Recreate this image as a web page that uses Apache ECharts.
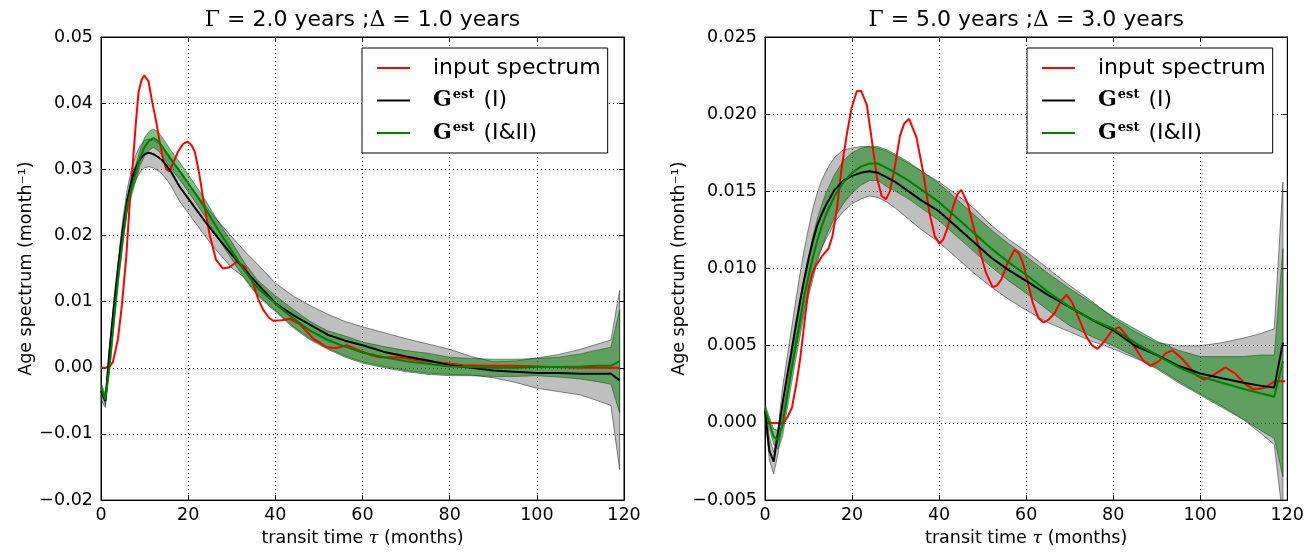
<!DOCTYPE html>
<html>
<head>
<meta charset="utf-8">
<script src="https://cdn.jsdelivr.net/npm/echarts@6/dist/echarts.min.js"></script>
<style>
html, body { margin: 0; padding: 0; background: #fff; }
#chart { width: 1307px; height: 552px; }
</style>
</head>
<body>
<div id="chart"></div>
<script>
// ---- transit-time grid (months) for the estimated spectra and their bands ----
const tau = [0, 1, 2, 3, 4, 5, 6, 7, 8, 9, 10, 11, 12, 13, 14, 15, 16, 18, 20, 22, 24, 26, 28, 30,
  33, 36, 40, 44, 48, 52, 56, 60, 65, 70, 75, 80, 85, 90, 95, 100, 105, 110, 114, 117, 119];

const xTicks = [0, 20, 40, 60, 80, 100, 120];
const yTicksA = [-0.02, -0.01, 0.00, 0.01, 0.02, 0.03, 0.04, 0.05];
const yTicksB = [-0.005, 0.000, 0.005, 0.010, 0.015, 0.020, 0.025];

const titleA = ['Γ = ', '2.0 years ;', 'Δ = ', '1.0 years'];
const titleB = ['Γ = ', '5.0 years ;', 'Δ = ', '3.0 years'];
const seriesNames = ['input spectrum', 'Gest (I)', 'Gest (I&II)'];

// ---- panel A: Γ = 2 years, Δ = 1 year ----
const inputTauA = [0, 1, 2, 2.75, 3.9, 4.8, 5.8, 6.5, 7.2, 8, 8.6, 9.3, 9.9, 10.9, 11.8, 12.7, 13.5, 14.2,
  15, 15.7, 16.7, 17.7, 18.8, 19.8, 20.7, 21.5, 22.5, 23.4, 24.9, 26.4, 28, 29.5, 31.1, 33, 34.9, 36,
  37.2, 38.5, 39.5, 41.5, 43.3, 45.6, 48.7, 51.8, 54, 56.4, 59.4, 62, 64, 67.8, 73.2, 79.3, 83, 88,
  94.5, 100, 110, 119];
const inputA = [0, 0, 0.0002, 0.0009, 0.0044, 0.0095, 0.0168, 0.024, 0.030, 0.037, 0.0416, 0.0435,
  0.0442, 0.0433, 0.040, 0.0371, 0.034, 0.0317, 0.0300, 0.0297, 0.0312, 0.0327, 0.0338, 0.0342,
  0.0337, 0.0327, 0.0295, 0.0257, 0.0202, 0.0163, 0.0150, 0.0152, 0.0160, 0.0153, 0.0128, 0.0105,
  0.0088, 0.0076, 0.0071, 0.0072, 0.0074, 0.0066, 0.0044, 0.0031, 0.0030, 0.0034, 0.0026, 0.0019,
  0.0016, 0.0016, 0.0011, 0.0007, 0.0004, 0.0003, 0.0003, 0.0002, 0.0, 0.0];

const gestIA = [-0.0035, -0.005, 0.0028, 0.0095, 0.0155, 0.021, 0.0253, 0.0283, 0.0303, 0.0316,
  0.0323, 0.0325, 0.0323, 0.0319, 0.0314, 0.0306, 0.0297, 0.0274, 0.0256, 0.0238, 0.022, 0.0203,
  0.0187, 0.0171, 0.0148, 0.0126, 0.0098, 0.008, 0.0065, 0.005, 0.0041, 0.0034, 0.0024, 0.0017,
  0.0011, 0.0004, 0.0, -0.0004, -0.0006, -0.0008, -0.0008, -0.0009, -0.0009, -0.0009, -0.0019];
const bandIHiA = [-0.0028, -0.0042, 0.0038, 0.0105, 0.0167, 0.0224, 0.0269, 0.030, 0.0322, 0.0336,
  0.0344, 0.0346, 0.0344, 0.034, 0.0335, 0.0327, 0.0318, 0.0296, 0.0279, 0.0262, 0.0245, 0.0228,
  0.0213, 0.0198, 0.0176, 0.0156, 0.0128, 0.0109, 0.0094, 0.0081, 0.007, 0.0062, 0.0053, 0.0044,
  0.0036, 0.0028, 0.0017, 0.0009, 0.001, 0.0015, 0.002, 0.0028, 0.0036, 0.0042, 0.0117];
const bandILoA = [-0.0048, -0.006, 0.0018, 0.0085, 0.0143, 0.0196, 0.0237, 0.0266, 0.0284, 0.0296,
  0.0302, 0.0304, 0.0302, 0.0298, 0.0293, 0.0285, 0.0276, 0.0252, 0.0234, 0.0216, 0.0198, 0.0181,
  0.0166, 0.0151, 0.0136, 0.011, 0.0087, 0.0063, 0.0044, 0.003, 0.0018, 0.0009, 0.0002, -0.0004,
  -0.0008, -0.001, -0.0011, -0.0015, -0.0022, -0.0031, -0.0036, -0.0041, -0.005, -0.0057, -0.0154];

const gestIIA = [-0.003, -0.0048, 0.0005, 0.0075, 0.014, 0.0195, 0.0245, 0.0272, 0.0295, 0.0318,
  0.0334, 0.0343, 0.0347, 0.0343, 0.0335, 0.0325, 0.0315, 0.0298, 0.0279, 0.026, 0.024, 0.0218,
  0.0197, 0.0177, 0.0146, 0.012, 0.0097, 0.0075, 0.0056, 0.0042, 0.0032, 0.0023, 0.0016, 0.001,
  0.0006, 0.0002, 0.0001, 0.0, 0.0, 0.0001, 0.0001, 0.0002, 0.0003, 0.0003, 0.001];
const bandIIHiA = [-0.0022, -0.004, 0.0013, 0.0085, 0.015, 0.0205, 0.0255, 0.0284, 0.0307, 0.033,
  0.0348, 0.0357, 0.0361, 0.0357, 0.0349, 0.0339, 0.0329, 0.0311, 0.0292, 0.0273, 0.0253, 0.0231,
  0.021, 0.019, 0.0158, 0.0132, 0.0109, 0.0089, 0.007, 0.0056, 0.0048, 0.0039, 0.0032, 0.0026,
  0.0022, 0.0016, 0.0014, 0.0013, 0.0013, 0.0014, 0.0016, 0.0021, 0.0027, 0.0031, 0.0088];
const bandIILoA = [-0.0038, -0.0056, -0.0003, 0.0065, 0.013, 0.0185, 0.0235, 0.026, 0.0283, 0.0306,
  0.032, 0.0329, 0.0333, 0.0329, 0.0321, 0.0311, 0.0301, 0.0285, 0.0266, 0.0247, 0.0227, 0.0205,
  0.0184, 0.0164, 0.0134, 0.0108, 0.0085, 0.0061, 0.0042, 0.0028, 0.0016, 0.0007, 0.0, -0.0006,
  -0.001, -0.0012, -0.0012, -0.0013, -0.0013, -0.0012, -0.0014, -0.0017, -0.0021, -0.0025, -0.0068];

// ---- panel B: Γ = 5 years, Δ = 3 years ----
const inputTauB = [0, 2, 4.3, 5.2, 6.2, 7.3, 8.1, 8.9, 10, 10.8, 11.5, 13.1, 14.6, 15.5, 16.5, 17.6,
  18.8, 19.9, 21.1, 22.1, 23.4, 24.5, 25.7, 26.8, 27.8, 28.7, 29.9, 31, 32, 33.1, 34.8, 36.3, 37.8,
  39, 40.1, 41, 42, 43.2, 44.2, 45.1, 46.6, 48, 49.3, 50.8, 52.3, 53.3, 54.3, 55.8, 57.3, 58.3, 59.2,
  60.4, 61.5, 62.8, 64, 65.2, 66.5, 68, 69.3, 70.6, 72.2, 73.8, 75.2, 76.4, 78, 79.8, 81.4, 83.2,
  85.2, 87, 88.6, 90.5, 92, 93.6, 95.3, 97, 99, 100.9, 103, 105.8, 108, 110.4, 112, 113.5, 115,
  116.5, 117.7, 119.5];
const inputB = [0, 0, 0, 0.0004, 0.001, 0.0027, 0.0042, 0.0061, 0.0087, 0.0096, 0.0101, 0.0108,
  0.0113, 0.0121, 0.0138, 0.0165, 0.0187, 0.0204, 0.0215, 0.0215, 0.0206, 0.0184, 0.0159, 0.0147,
  0.0145, 0.0150, 0.0167, 0.0186, 0.0194, 0.0197, 0.0185, 0.0163, 0.0136, 0.0121, 0.0116, 0.0119,
  0.0127, 0.0140, 0.0148, 0.0151, 0.0142, 0.0126, 0.0112, 0.0097, 0.0088, 0.0089, 0.0093, 0.0104,
  0.0112, 0.0110, 0.0104, 0.0091, 0.0078, 0.0068, 0.0065, 0.0067, 0.0071, 0.0079, 0.0083, 0.0078,
  0.0067, 0.0056, 0.0050, 0.0048, 0.0053, 0.0060, 0.0062, 0.0056, 0.0048, 0.0040, 0.0037, 0.0040,
  0.0045, 0.0047, 0.0043, 0.0038, 0.0031, 0.0028, 0.0031, 0.0036, 0.0032, 0.0025, 0.0022, 0.0022,
  0.0023, 0.0026, 0.0027, 0.0027];

const gestIB = [0.0008, -0.0018, -0.0025, -0.0006, 0.0012, 0.0029, 0.0045, 0.0062, 0.0078, 0.0093,
  0.0106, 0.0118, 0.0128, 0.0135, 0.0141, 0.0146, 0.0151, 0.0157, 0.016, 0.0162, 0.0163, 0.0162,
  0.0159, 0.0156, 0.015, 0.0144, 0.0137, 0.0127, 0.0117, 0.0107, 0.0099, 0.0092, 0.0083, 0.0075,
  0.0067, 0.006, 0.005, 0.0044, 0.0037, 0.0032, 0.0029, 0.0026, 0.0024, 0.0023, 0.0052];
const bandIHiB = [0.0012, -0.0009, -0.0019, -0.0004, 0.0022, 0.0041, 0.0059, 0.0078, 0.0096, 0.0112,
  0.0126, 0.0139, 0.0149, 0.0157, 0.0163, 0.0168, 0.0172, 0.0177, 0.0178, 0.0179, 0.0179, 0.0178,
  0.0176, 0.0173, 0.0168, 0.0163, 0.0156, 0.0148, 0.0139, 0.0128, 0.0119, 0.0111, 0.010, 0.0089,
  0.0079, 0.0068, 0.0059, 0.0052, 0.005, 0.005, 0.0052, 0.0055, 0.0058, 0.0061, 0.0156];
const bandILoB = [0.0004, -0.0024, -0.0033, -0.002, 0.0002, 0.0017, 0.0031, 0.0046, 0.006, 0.0074,
  0.0086, 0.0097, 0.0107, 0.0113, 0.0119, 0.0124, 0.013, 0.0137, 0.0142, 0.0145, 0.0147, 0.0146,
  0.0143, 0.0139, 0.0132, 0.0125, 0.0117, 0.0107, 0.0097, 0.0088, 0.008, 0.0073, 0.0065, 0.0059,
  0.0053, 0.0048, 0.0042, 0.0036, 0.0027, 0.0019, 0.0011, 0.0002, -0.0007, -0.0014, -0.0062];

const gestIIB = [0.0009, 0.0, -0.0009, -0.0011, -0.0002, 0.0015, 0.0033, 0.005, 0.0066, 0.0082,
  0.0095, 0.0107, 0.0118, 0.0127, 0.0135, 0.0141, 0.0147, 0.0156, 0.0162, 0.0166, 0.0168, 0.0168,
  0.0165, 0.0162, 0.0157, 0.0151, 0.0143, 0.0133, 0.0123, 0.0113, 0.0104, 0.0096, 0.0085, 0.0075,
  0.0067, 0.0061, 0.0052, 0.0044, 0.0036, 0.003, 0.0026, 0.0022, 0.0019, 0.0017, 0.004];
const bandIIHiB = [0.0012, 0.0004, -0.0004, -0.0005, 0.0005, 0.0023, 0.0042, 0.006, 0.0077, 0.0094,
  0.0108, 0.0121, 0.0132, 0.0141, 0.0149, 0.0155, 0.0161, 0.017, 0.0175, 0.0178, 0.0179, 0.0179,
  0.0177, 0.0174, 0.0169, 0.0163, 0.0155, 0.0145, 0.0135, 0.0125, 0.0116, 0.0108, 0.0097, 0.0087,
  0.0078, 0.0069, 0.0061, 0.0053, 0.0047, 0.0043, 0.0043, 0.0043, 0.0044, 0.0044, 0.0113];
const bandIILoB = [0.0006, -0.0004, -0.0014, -0.0017, -0.0009, 0.0007, 0.0024, 0.004, 0.0055, 0.007,
  0.0082, 0.0093, 0.0104, 0.0113, 0.0121, 0.0127, 0.0133, 0.0142, 0.0149, 0.0154, 0.0157, 0.0157,
  0.0153, 0.015, 0.0145, 0.0139, 0.0131, 0.0121, 0.0111, 0.0101, 0.0092, 0.0084, 0.0073, 0.0063,
  0.0056, 0.005, 0.0043, 0.0035, 0.0026, 0.0018, 0.001, 0.0002, -0.0005, -0.001, -0.0035];

// ---- chart construction ----
const SANS = 'DejaVu Sans';
const SERIF = 'DejaVu Serif';
const pairs = (xs, ys) => xs.map((x, i) => [x, ys[i]]);
const fmtTick = (digits) => (v) => (v < -1e-12 ? '\u2212' : '') + Math.abs(v).toFixed(digits);

const grids = [
  { left: 101, top: 37, width: 523, height: 470 },
  { left: 765, top: 37, width: 524, height: 470 }
];

function bottomAxis(gridIndex, title) {
  return [{
    type: 'value', gridIndex, position: 'bottom', min: 0, max: 120, interval: 20,
    axisLine: { show: true, onZero: false, lineStyle: { color: '#000', width: 1 } },
    axisTick: { show: true, inside: true, length: 5, lineStyle: { color: '#000' } },
    axisLabel: { color: '#000', fontFamily: SANS, fontSize: 17.5, margin: 6,
      formatter: (v) => xTicks.includes(v) ? String(v) : '' },
    splitLine: { show: true, lineStyle: { color: '#000', width: 1, type: [1, 3] } },
    name: 'transit time {i|τ} (months)', nameLocation: 'middle', nameGap: 26,
    nameTextStyle: { color: '#000', fontFamily: SANS, fontSize: 17.5,
      rich: { i: { fontFamily: SERIF, fontStyle: 'italic', fontSize: 17.5, color: '#000' } } }
  }, {
    type: 'value', gridIndex, position: 'top', min: 0, max: 120, interval: 20,
    axisLine: { show: true, onZero: false, lineStyle: { color: '#000', width: 1 } },
    axisTick: { show: true, inside: true, length: 5, lineStyle: { color: '#000' } },
    axisLabel: { show: false }, splitLine: { show: false },
    name: '{m|' + title[0] + '}' + title[1] + '{m|' + title[2] + '}' + title[3],
    nameLocation: 'middle', nameGap: 6,
    nameTextStyle: { color: '#000', fontFamily: SANS, fontSize: 22, verticalAlign: 'bottom',
      rich: { m: { fontFamily: SERIF, fontSize: 22, color: '#000' } } }
  }];
}

function sideAxes(gridIndex, min, max, interval, digits, gap) {
  return [{
    type: 'value', gridIndex, position: 'left', min, max, interval,
    axisLine: { show: true, onZero: false, lineStyle: { color: '#000', width: 1 } },
    axisTick: { show: true, inside: true, length: 5, lineStyle: { color: '#000' } },
    axisLabel: { color: '#000', fontFamily: SANS, fontSize: 17.5, margin: 8, formatter: fmtTick(digits) },
    splitLine: { show: true, lineStyle: { color: '#000', width: 1, type: [1, 3] } },
    name: 'Age spectrum (month\u207B\u00B9)', nameLocation: 'middle', nameGap: gap, nameRotate: 90,
    nameTextStyle: { color: '#000', fontFamily: SANS, fontSize: 17.5 }
  }, {
    type: 'value', gridIndex, position: 'right', min, max, interval,
    axisLine: { show: true, onZero: false, lineStyle: { color: '#000', width: 1 } },
    axisTick: { show: true, inside: true, length: 5, lineStyle: { color: '#000' } },
    axisLabel: { show: false }, splitLine: { show: false }
  }];
}

// Uncertainty band: one closed polygon, upper edge forward then lower edge back,
// placed through the axes of its panel and clipped to the plot area.
function band(xi, yi, lo, hi, fill, edge) {
  return {
    type: 'custom', xAxisIndex: xi, yAxisIndex: yi, silent: true, z: 1, clip: true,
    animation: false,
    data: tau.map((x, i) => [x, lo[i], hi[i]]),
    encode: { x: 0, y: [1, 2] },
    renderItem: (params, api) => {
      if (params.dataIndex !== 0) return null;
      const pts = [];
      for (let i = 0; i < tau.length; i++) pts.push(api.coord([tau[i], hi[i]]));
      for (let i = tau.length - 1; i >= 0; i--) pts.push(api.coord([tau[i], lo[i]]));
      const cs = params.coordSys;
      return {
        type: 'group',
        clipPath: { type: 'rect', shape: { x: cs.x, y: cs.y, width: cs.width, height: cs.height } },
        children: [{
          type: 'polygon', shape: { points: pts },
          style: { fill, stroke: edge, lineWidth: 1 }
        }]
      };
    }
  };
}

function curve(name, xi, yi, xs, ys, color) {
  return {
    name, type: 'line', xAxisIndex: xi, yAxisIndex: yi, data: pairs(xs, ys),
    symbol: 'none', z: 5, animation: false, lineStyle: { color, width: 2 }, itemStyle: { color }
  };
}

const GRAY_FILL = 'rgba(128,128,128,0.5)';
const GRAY_EDGE = 'rgba(0,0,0,0.45)';
const GREEN_FILL = 'rgba(0,128,0,0.5)';
const GREEN_EDGE = 'rgba(0,60,0,0.45)';

const series = [
  band(0, 0, bandILoA, bandIHiA, GRAY_FILL, GRAY_EDGE),
  band(0, 0, bandIILoA, bandIIHiA, GREEN_FILL, GREEN_EDGE),
  curve(seriesNames[0], 0, 0, inputTauA, inputA, '#ff0000'),
  curve(seriesNames[1], 0, 0, tau, gestIA, '#000000'),
  curve(seriesNames[2], 0, 0, tau, gestIIA, '#008000'),
  band(2, 2, bandILoB, bandIHiB, GRAY_FILL, GRAY_EDGE),
  band(2, 2, bandIILoB, bandIIHiB, GREEN_FILL, GREEN_EDGE),
  curve(seriesNames[0], 2, 2, inputTauB, inputB, '#ff0000'),
  curve(seriesNames[1], 2, 2, tau, gestIB, '#000000'),
  curve(seriesNames[2], 2, 2, tau, gestIIB, '#008000')
];

function legendAt(left) {
  return {
    left, top: 48, orient: 'vertical', data: seriesNames, selectedMode: false,
    icon: 'rect', itemWidth: 33, itemHeight: 2, itemGap: 8.5,
    padding: [8, 7, 8, 15], borderColor: '#000', borderWidth: 1, backgroundColor: '#fff',
    formatter: (n) => n === 'input spectrum' ? n : '{g|G}{s|est}' + n.slice(4),
    textStyle: {
      color: '#000', fontFamily: SANS, fontSize: 22, lineHeight: 24, padding: [0, 0, 0, 18],
      rich: {
        g: { fontFamily: SERIF, fontWeight: 'bold', fontSize: 22, color: '#000' },
        s: { fontFamily: SERIF, fontWeight: 'bold', fontSize: 13, color: '#000',
             verticalAlign: 'top', lineHeight: 14, padding: [0, 2, 10, 1] }
      }
    }
  };
}

const chart = echarts.init(document.getElementById('chart'), null, { renderer: 'canvas' });
chart.setOption({
  backgroundColor: '#fff',
  animation: false,
  grid: grids.map(g => Object.assign({ show: true, borderColor: '#000', borderWidth: 1,
    backgroundColor: 'transparent', containLabel: false }, g)),
  xAxis: [...bottomAxis(0, titleA), ...bottomAxis(1, titleB)],
  yAxis: [...sideAxes(0, -0.02, 0.05, 0.01, 2, 64), ...sideAxes(1, -0.005, 0.025, 0.005, 3, 68)],
  legend: [legendAt(362), legendAt(1027)],
  series
});
</script>
</body>
</html>
